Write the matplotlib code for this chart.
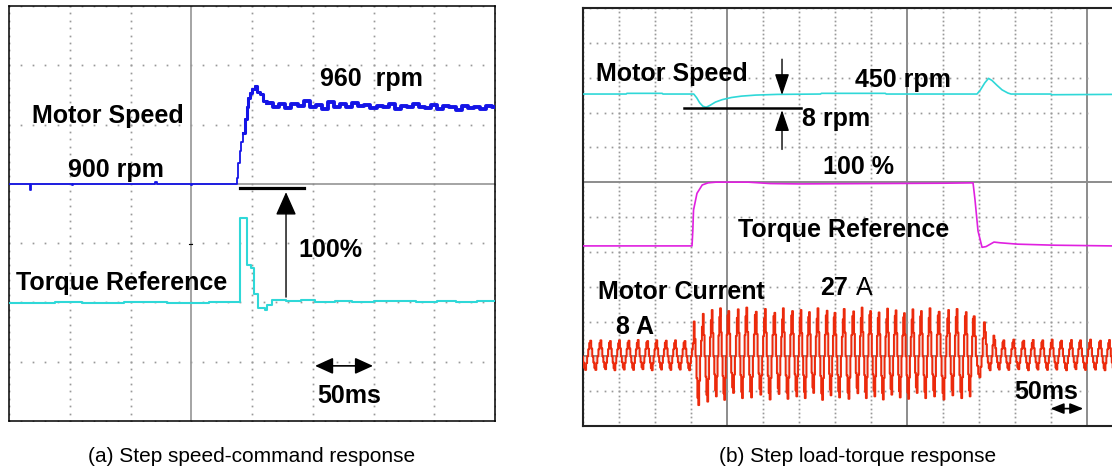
import matplotlib.pyplot as plt
import numpy as np

plt.rcParams['font.family'] = ['Liberation Sans', 'DejaVu Sans']

# ---- panel (a): step speed command; x in ms (50 ms / div), y in divisions
speed_a_t = [0, 17.5, 18.5, 52, 53, 120.5, 122, 150, 151, 187.6, 188.5, 190.0, 191.3,
             192.6, 194.0, 195.6, 197.0, 198.3, 200.0, 202.5, 204.5, 206.6, 209.0, 212.3]
speed_a_y = [4.00, 3.90, 4.00, 3.98, 4.00, 4.03, 4.00, 3.98, 4.00, 4.10, 4.35, 4.55, 4.70,
             4.85, 5.10, 5.30, 5.45, 5.53, 5.60, 5.65, 5.55, 5.52, 5.40, 5.36]
speed_a_settle = [5.36, 5.30, 5.34, 5.28, 5.35, 5.31, 5.40, 5.29, 5.33, 5.27, 5.38, 5.30,
                  5.34, 5.29, 5.37, 5.31, 5.33, 5.28, 5.32, 5.30, 5.35, 5.27, 5.31, 5.29,
                  5.34, 5.30, 5.28, 5.33, 5.26, 5.31, 5.29, 5.25, 5.32, 5.28, 5.30, 5.26,
                  5.31, 5.29]

torque_a_t = [0, 38, 60, 95, 130, 165, 190.1, 195.6, 198.9, 201.6, 205.2, 210.7, 212.6,
              216.2, 228, 240, 252, 268, 282, 300, 318, 335, 352, 368, 385, 400]
torque_a_y = [1.99, 2.00, 1.99, 2.00, 1.99, 2.00, 3.42, 2.63, 2.58, 2.15, 1.90, 1.87, 1.96,
              2.04, 2.02, 2.04, 2.01, 2.03, 2.01, 2.03, 2.02, 2.00, 2.03, 2.01, 2.03, 2.03]

# ---- panel (b): step load torque
speed_b_t = [0, 60, 61, 110, 111, 153.8, 158, 162, 166.5, 171, 176, 184, 193.5, 206, 220,
             240, 270, 330, 331, 420, 421, 547.2, 552, 558, 563.2, 568, 575, 582, 590,
             594.4, 650, 651, 734.7]
speed_b_y = [9.53, 9.53, 9.55, 9.55, 9.53, 9.53, 9.42, 9.28, 9.18, 9.15, 9.20, 9.30, 9.37,
             9.43, 9.47, 9.50, 9.52, 9.53, 9.55, 9.55, 9.53, 9.53, 9.65, 9.85, 9.98, 9.92,
             9.78, 9.65, 9.56, 9.53, 9.53, 9.51, 9.52]

torque_b_t = [0, 151.4, 152.5, 153.5, 158.3, 165.6, 173.6, 184.3, 230, 260, 300, 400, 500,
              541.7, 544.4, 548.6, 554.2, 559.7, 570.8, 579.2, 603.8, 655.6, 734.7]
torque_b_y = [5.17, 5.17, 5.60, 6.20, 6.68, 6.92, 6.98, 7.00, 7.00, 6.96, 6.95, 6.96, 6.97,
              6.98, 6.50, 5.60, 5.13, 5.15, 5.28, 5.26, 5.22, 5.19, 5.17]

# motor current: time of each positive peak (ms) and the peak / following trough (div)
cur_peak_t = [10.0, 24.2, 37.4, 50.0, 63.2, 76.0, 89.2, 101.8, 115.0, 127.8, 141.0,
              153.8, 166.4, 178.8, 190.4, 201.8, 215.0, 226.8, 240.0, 252.6, 265.8, 277.6,
              290.4, 302.2, 313.9, 325.7, 338.5, 349.3, 362.1, 375.3, 387.0, 398.8, 410.6,
              422.4, 434.2, 445.8, 457.6, 469.4, 481.3, 494.0, 507.2, 518.9, 531.7, 542.5,
              558.3, 571.3, 583.8, 597.6, 611.5, 624.6, 637.9, 651.0, 663.9, 677.8, 690.3,
              704.2, 718.1, 730.6]
cur_peak = [0.45, 0.46, 0.44, 0.46, 0.45, 0.47, 0.44, 0.46, 0.45, 0.46, 0.44,
            1.00, 1.22, 1.33, 1.38, 1.30, 1.35, 1.40, 1.28, 1.36, 1.25, 1.38, 1.30, 1.33,
            1.27, 1.38, 1.31, 1.25, 1.36, 1.29, 1.40, 1.30, 1.26, 1.37, 1.32, 1.24, 1.35,
            1.30, 1.38, 1.28, 1.33, 1.36, 1.27, 1.15,
            0.70, 0.47, 0.46, 0.48, 0.45, 0.47, 0.46, 0.48, 0.45, 0.47, 0.46, 0.48, 0.45, 0.47]
cur_trough = [-0.39, -0.37, -0.40, -0.38, -0.39, -0.37, -0.40, -0.38, -0.39, -0.38, -0.40,
              -1.40, -1.30, -1.15, -1.25, -1.05, -1.20, -1.18, -1.10, -1.24, -1.08, -1.22,
              -1.15, -1.20, -1.05, -1.25, -1.12, -1.18, -1.22, -1.06, -1.20, -1.15, -1.24,
              -1.10, -1.18, -1.22, -1.05, -1.20, -1.15, -1.24, -1.12, -1.20, -1.15, -0.60,
              -0.40, -0.38, -0.39, -0.37, -0.40, -0.38, -0.39, -0.38, -0.40, -0.37, -0.39,
              -0.38, -0.40, -0.39]
# one sampled period, peak first (fraction of peak / trough)
cur_shape = [1.0, 0.5, 0.0, -0.45, -0.85, -1.0, -0.5, 0.0, 0.45, 0.85]
cur_zero = 2.0

GRID = '#999999'


def scope_grid(ax, nx, ny, solid_x, solid_y, xdiv=50, lw_solid=1.1):
    yy = np.arange(0, ny + 1e-9, 1 / 8)
    for k in range(nx + 1):
        if k in solid_x:
            ax.axvline(k * xdiv, color='#8c8c8c', lw=lw_solid, zorder=1)
        else:
            ax.plot(np.full_like(yy, k * xdiv), yy, ls='none', marker='s', ms=1.25,
                    mew=0, color=GRID, zorder=1)
    xx = np.arange(0, nx * xdiv + 1e-9, xdiv / 5)
    for k in range(ny + 1):
        if k in solid_y:
            ax.axhline(k, color='#8c8c8c', lw=lw_solid, zorder=1)
        else:
            ax.plot(xx, np.full_like(xx, k), ls='none', marker='s', ms=1.25, mew=0,
                    color=GRID, zorder=1)
    ax.set_xticks([])
    ax.set_yticks([])


def arrow(ax, tail, tip, hl=0.72, hw=0.3, ms=20, lw=1.0, style='-|>'):
    ax.annotate('', xy=tip, xytext=tail,
                arrowprops=dict(arrowstyle=f'{style},head_length={hl},head_width={hw}',
                                mutation_scale=ms, color='k', lw=lw,
                                shrinkA=0, shrinkB=0))


def build_current():
    peaks = np.asarray(cur_peak_t)
    per = np.diff(peaks)
    per = np.append(per, per[-1])
    n = len(cur_shape)
    t_out, v_out = [], []
    # partial period before the first peak
    starts = [peaks[0] - per[0]] + list(peaks)
    pers = [per[0]] + list(per)
    pk = [cur_peak[0]] + list(cur_peak)
    tr = [cur_trough[0]] + list(cur_trough)
    for s, p, a, b in zip(starts, pers, pk, tr):
        for k, f in enumerate(cur_shape):
            t_out.append(s + k / n * p)
            v_out.append(cur_zero + (f * a if f >= 0 else -f * b))
    return np.array(t_out), np.array(v_out)


fig = plt.figure(figsize=(11.12, 4.72), dpi=100)
W, H = 1112, 472

# ---------------- panel (a)
axa = fig.add_axes([9 / W, (H - 421) / H, 486 / W, 415 / H])
axa.set_xlim(0, 400)
axa.set_ylim(0, 7)
scope_grid(axa, 8, 7, solid_x=[3], solid_y=[4])
for sp in axa.spines.values():
    sp.set_color('k')
    sp.set_linewidth(1.1)

axa.plot(speed_a_t, speed_a_y, color='#1414e6', lw=1.3, drawstyle='steps-post', zorder=3)
axa.plot(speed_a_t[13:], speed_a_y[13:], color='#1414e6', lw=2.2, drawstyle='steps-post',
         zorder=3)
axa.plot(list(range(215, 401, 5)), speed_a_settle, color='#1414e6', lw=2.8,
         drawstyle='steps-mid', zorder=3)
axa.plot([212.3, 215], [5.36, 5.36], color='#1414e6', lw=2.8, zorder=3)
axa.plot(torque_a_t, torque_a_y, color='#2fd8d8', lw=1.5, drawstyle='steps-post', zorder=3)

axa.plot([190.1, 242.8], [3.93, 3.93], color='k', lw=2.3, zorder=4)
axa.plot([148.1, 151.0], [2.985, 2.985], color='k', lw=0.8, zorder=4)
arrow(axa, (228, 2.09), (228, 3.86), hl=0.72, hw=0.32, ms=20)
arrow(axa, (251.9, 0.93), (299.6, 0.93), hl=0.55, hw=0.25, ms=20, lw=1.2, style='<|-|>')

lab = dict(fontsize=18, fontweight='bold', ha='center', va='baseline', zorder=5)
axa.text(81.1, 5.03, 'Motor Speed', **lab)
axa.text(88.1, 4.11, '900 rpm', **lab)
axa.text(298.4, 5.65, '960  rpm', **lab)
axa.text(93, 2.21, 'Torque Reference', **lab)
axa.text(264.6, 2.77, '100%', **lab)
axa.text(279.8, 0.30, '50ms', **lab)

# ---------------- panel (b)
axb = fig.add_axes([583 / W, (H - 426) / H, (W - 583) / W, 418 / H])
axb.set_xlim(0, 734.7)
axb.set_ylim(0, 12)
scope_grid(axb, 14, 12, solid_x=[4, 9, 14], solid_y=[2, 7], lw_solid=1.4)
for name, sp in axb.spines.items():
    sp.set_color('#222222')
    sp.set_linewidth(1.5)
axb.spines['right'].set_visible(False)

axb.plot(speed_b_t, speed_b_y, color='#2fd8d8', lw=1.2, zorder=3)
axb.plot(torque_b_t, torque_b_y, color='#e020e0', lw=1.2, zorder=3)
ct, cv = build_current()
axb.fill_between(ct, cv, cur_zero, step='post', color='#efdedb', lw=0, zorder=2)
axb.plot(ct, cv, color='#ec2a0c', lw=1.4, drawstyle='steps-post', zorder=3)

axb.plot([139.6, 302.2], [9.12, 9.12], color='k', lw=1.8, zorder=4)
arrow(axb, (276.4, 10.53), (276.4, 9.50), hl=0.65, hw=0.22, ms=20)
arrow(axb, (276.4, 7.94), (276.4, 9.07), hl=0.65, hw=0.22, ms=20)
arrow(axb, (649.3, 0.50), (694.9, 0.50), hl=0.5, hw=0.2, ms=16, lw=1.2, style='<|-|>')

axb.text(123.6, 9.905, 'Motor Speed', **lab)
axb.text(443.8, 9.73, '450 rpm', **lab)
axb.text(352.1, 8.61, '8 rpm', **lab)
axb.text(382, 7.24, '100 %', **lab)
axb.text(362.5, 5.43, 'Torque Reference', **lab)
axb.text(136.1, 3.65, 'Motor Current', **lab)
axb.text(368, 3.76, '27', fontsize=18, fontweight='bold', ha='right', va='baseline')
axb.text(378.5, 3.76, 'A', fontsize=18, ha='left', va='baseline')
axb.text(72.9, 2.64, '8 A', **lab)
axb.text(643, 0.78, '50ms', **lab)

fig.text(252 / W, 1 - 462 / H, '(a) Step speed-command response', fontsize=15,
         ha='center', va='baseline')
fig.text(858 / W, 1 - 462 / H, '(b) Step load-torque response', fontsize=15,
         ha='center', va='baseline')

fig.savefig('out.png', dpi=100)
